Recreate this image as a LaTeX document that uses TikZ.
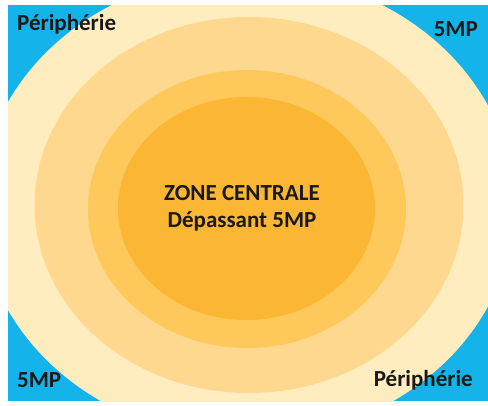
\documentclass[tikz,border=0pt]{standalone}
\usepackage{fontspec}
\setmainfont{Carlito}
\definecolor{bgblue}{HTML}{14B4EA}
\definecolor{zoneA}{HTML}{FFEDC0}
\definecolor{zoneB}{HTML}{FED88E}
\definecolor{zoneC}{HTML}{FEC85A}
\definecolor{zoneD}{HTML}{FBB733}
\begin{document}
\begin{tikzpicture}[x=1pt,y=-1pt,
  lbl/.style={font=\bfseries\fontsize{23}{27}\selectfont, text=black!90, inner sep=0pt},
  ctr/.style={font=\bfseries\fontsize{23}{27}\selectfont, text=black!90, align=center, inner sep=0pt}]
\useasboundingbox (0,0) rectangle (488,405);
\fill[white] (0,0) rectangle (488,405);
\fill[bgblue] (8,5) rectangle (488,401);
\begin{scope}
  \clip (8,5) rectangle (488,401);
  \fill[zoneA] (247,206) ellipse [x radius=267, y radius=233];
  \fill[zoneB] (249,205) ellipse [x radius=214.5, y radius=188];
  \fill[zoneC] (247,209) ellipse [x radius=159, y radius=139];
  \fill[zoneD] (246.5,208.5) ellipse [x radius=128.5, y radius=111.5];
\end{scope}
\node[ctr] (centre) at (242,208) {ZONE CENTRALE\\Dépassant 5MP};
\node[lbl, anchor=west] (pTL) at (17,24) {Périphérie};
\node[lbl, anchor=east] (mTR) at (478,29) {5MP};
\node[lbl, anchor=west] (mBL) at (17,380) {5MP};
\node[lbl, anchor=east] (pBR) at (473,380) {Périphérie};
\end{tikzpicture}
\end{document}
